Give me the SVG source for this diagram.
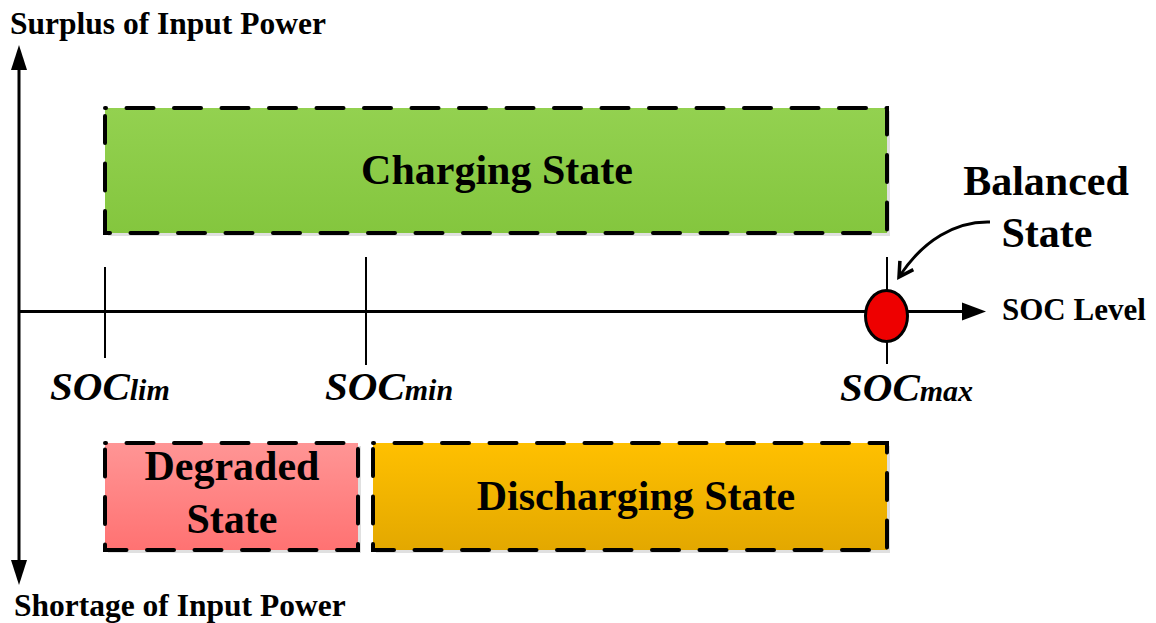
<svg xmlns="http://www.w3.org/2000/svg" width="1156" height="623" viewBox="0 0 1156 623">
<style>
text{font-family:"Liberation Serif","Times New Roman",serif;font-weight:bold;fill:#000}
.box{stroke:#000;stroke-width:4;stroke-dasharray:27 20.5;stroke-dashoffset:26;stroke-linecap:round}
.shadow{fill:#000;opacity:0.12}
.axis{stroke:#000;stroke-width:3;fill:none}
.tick{stroke:#000;stroke-width:2;fill:none}
.big{font-size:42px;text-anchor:middle}
.ax{font-size:31.5px}
.soc{font-size:41px;font-style:italic}
.sub{font-size:30px;font-style:italic}
</style>
<defs>
<linearGradient id="gGreen" x1="0" y1="0" x2="0" y2="1"><stop offset="0" stop-color="#93d150"/><stop offset="1" stop-color="#84c63e"/></linearGradient>
<linearGradient id="gPink" x1="0" y1="0" x2="0" y2="1"><stop offset="0" stop-color="#ff9595"/><stop offset="1" stop-color="#ff7272"/></linearGradient>
<linearGradient id="gOrange" x1="0" y1="0" x2="0" y2="1"><stop offset="0" stop-color="#ffc000"/><stop offset="1" stop-color="#e3a800"/></linearGradient>
<marker id="openArrow" viewBox="0 0 20 20" refX="17" refY="10" markerWidth="20" markerHeight="20" markerUnits="userSpaceOnUse" orient="auto">
<path d="M3 2 L17 10 L3 18" fill="none" stroke="#000" stroke-width="3.5" stroke-linejoin="miter"/>
</marker>
</defs>

<g id="charging-state">
<rect class="shadow" x="108" y="111" width="782" height="125"/>
<rect class="box" x="105" y="108" width="782" height="125" fill="url(#gGreen)"/>
<text class="big" x="497" y="184">Charging State</text>
</g>

<g id="degraded-state">
<rect class="shadow" x="108" y="446" width="253" height="107"/>
<rect class="box" x="105" y="443" width="253" height="107" fill="url(#gPink)"/>
<text class="big" x="232" y="480">Degraded</text>
<text class="big" x="232" y="533">State</text>
</g>

<g id="discharging-state">
<rect class="shadow" x="376" y="446" width="514" height="107"/>
<rect class="box" x="373" y="443" width="514" height="107" fill="url(#gOrange)"/>
<text class="big" x="636" y="510">Discharging State</text>
</g>

<g id="connectors">
<line class="axis" x1="19" y1="66" x2="19" y2="563"/>
<polygon points="19,45 11,70 27,70" fill="#000"/>
<polygon points="19,585 11,560 27,560" fill="#000"/>
<line class="axis" x1="19" y1="311.5" x2="966" y2="311.5"/>
<polygon points="986,311.5 962,302.5 962,320.5" fill="#000"/>
<line class="tick" x1="105" y1="267" x2="105" y2="358"/>
<line class="tick" x1="366" y1="257" x2="366" y2="365"/>
<line class="tick" x1="887" y1="257" x2="887" y2="364"/>
<path class="axis" d="M 990 222 C 956 221 923 240 899 277" marker-end="url(#openArrow)"/>
</g>

<g id="balanced-state">
<ellipse cx="886.5" cy="316" rx="21" ry="25.5" fill="#ee0000" stroke="#000" stroke-width="3"/>
<text class="big" x="1046" y="195">Balanced</text>
<text class="big" x="1047" y="247">State</text>
</g>

<g id="labels">
<text class="ax" x="10" y="34">Surplus of Input Power</text>
<text class="ax" x="14" y="616">Shortage of Input Power</text>
<text x="1002" y="320" style="font-size:31px">SOC Level</text>
<text x="50" y="400"><tspan class="soc">SOC</tspan><tspan class="sub">lim</tspan></text>
<text x="325" y="400"><tspan class="soc">SOC</tspan><tspan class="sub">min</tspan></text>
<text x="840" y="401"><tspan class="soc">SOC</tspan><tspan class="sub">max</tspan></text>
</g>
</svg>
